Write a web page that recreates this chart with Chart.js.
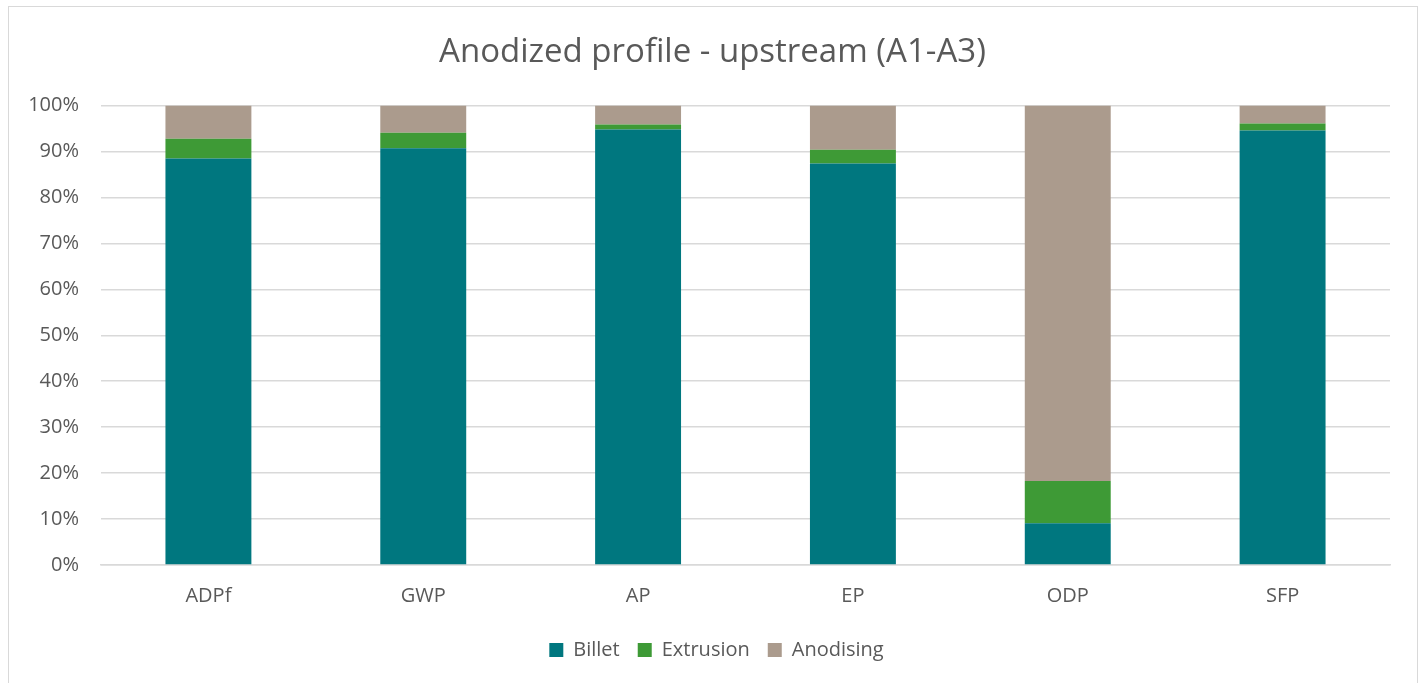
<!DOCTYPE html>
<html>
<head>
<meta charset="utf-8">
<script src="https://cdn.jsdelivr.net/npm/chart.js@4"></script>
<style>
  html, body { margin: 0; padding: 0; background: #fff; }
  #box {
    position: absolute; left: 8px; top: 6px; width: 1410px; height: 690px;
    border: 1px solid #d9d9d9; box-sizing: border-box;
  }
  #wrap { position: absolute; left: 0; top: 0; width: 1408px; height: 677px; }
</style>
</head>
<body>
<div id="box"><div id="wrap"><canvas id="myChart"></canvas></div></div>
<script>
var categories = ["ADPf", "GWP", "AP", "EP", "ODP", "SFP"];
var billet = [88.5, 90.7, 94.8, 87.4, 9.1, 94.6];
var extrusion = [4.3, 3.4, 1.1, 3.0, 9.2, 1.5];
var anodising = [7.2, 5.9, 4.1, 9.6, 81.7, 3.9];
var yTicks = [0, 10, 20, 30, 40, 50, 60, 70, 80, 90, 100];

const teal = "#00777f";
const green = "#3e9a36";
const taupe = "#ab9b8d";
const textGrey = "#595959";

Chart.defaults.font.family = "'Open Sans', sans-serif";
Chart.defaults.color = textGrey;

function makeSet(label, values, color) {
  return {
    label: label,
    data: values,
    backgroundColor: color,
    borderWidth: 0,
    barPercentage: 0.4,
    categoryPercentage: 1.0,
  };
}

// nudge title and legend to the right so they sit centred like the original
const centreShift = {
  id: "centreShift",
  afterLayout: function (chart) {
    chart.titleBlock.left += 9;
    chart.titleBlock.right += 9;
    chart.legend.left += 13;
    chart.legend.right += 13;
  },
};

const config = {
  type: "bar",
  data: {
    labels: categories,
    datasets: [
      makeSet("Billet", billet, teal),
      makeSet("Extrusion", extrusion, green),
      makeSet("Anodising", anodising, taupe),
    ],
  },
  options: {
    responsive: true,
    maintainAspectRatio: false,
    animation: false,
    layout: { padding: { left: 8, right: 27, top: 26, bottom: 14 } },
    plugins: {
      title: {
        display: true,
        text: "Anodized profile - upstream (A1-A3)",
        color: textGrey,
        font: { size: 33, weight: "normal" },
        padding: { top: 0, bottom: 33 },
      },
      legend: {
        position: "bottom",
        labels: {
          boxWidth: 14,
          boxHeight: 14,
          color: textGrey,
          font: { size: 20 },
          padding: 18,
        },
      },
      tooltip: { enabled: false },
    },
    scales: {
      x: {
        stacked: true,
        grid: { display: false },
        border: { color: "#d9d9d9", width: 1.5 },
        ticks: { color: textGrey, font: { size: 20 }, padding: 11 },
        afterFit: function (axis) { axis.height = 57; },
      },
      y: {
        stacked: true,
        min: 0,
        max: 100,
        afterBuildTicks: function (axis) {
          axis.ticks = yTicks.map(function (v) { return { value: v }; });
        },
        afterFit: function (axis) { axis.width = 84; },
        grid: { color: "#d9d9d9", lineWidth: 1.5, drawTicks: false },
        border: { display: false },
        ticks: {
          color: textGrey,
          font: { size: 20 },
          padding: 22,
          callback: function (v) { return v + "%"; },
        },
      },
    },
  },
  plugins: [centreShift],
};

new Chart(document.getElementById("myChart"), config);
</script>
</body>
</html>
